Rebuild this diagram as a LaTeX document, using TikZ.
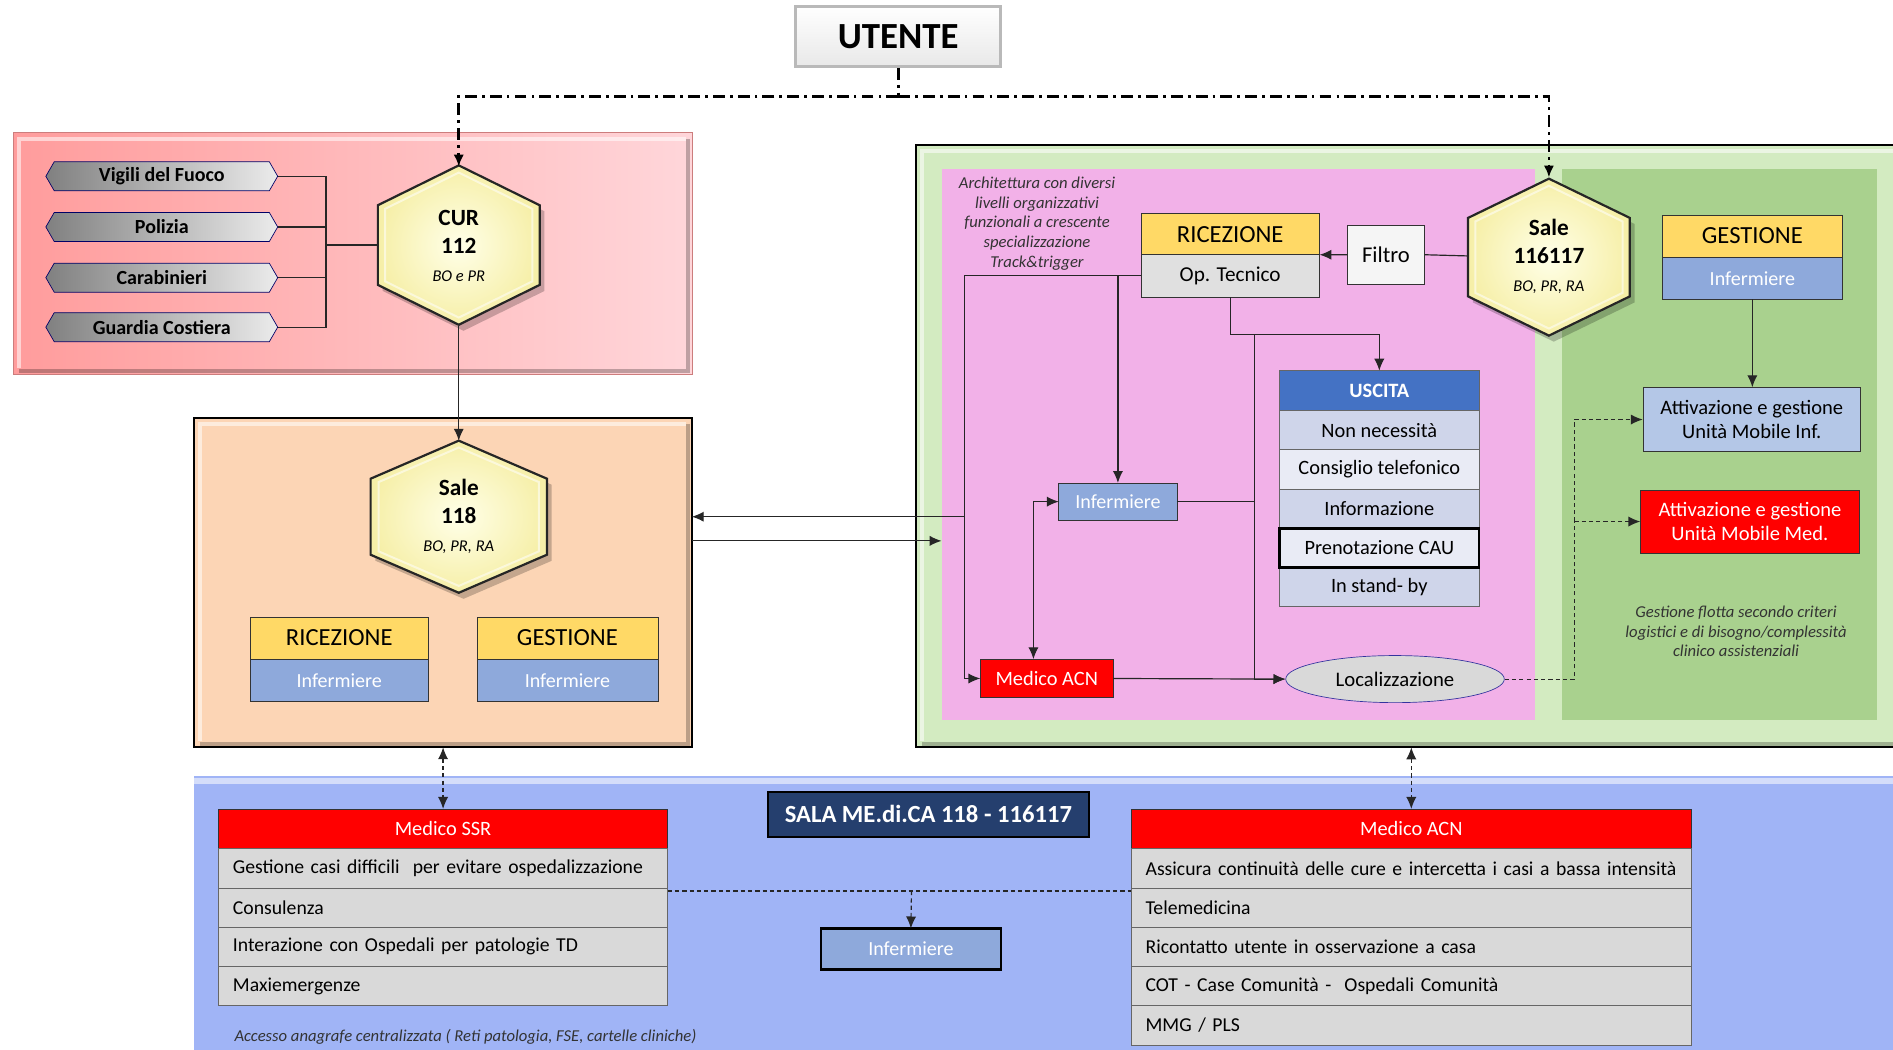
\documentclass[tikz,border=0pt]{standalone}
\usepackage{fontspec}
\setmainfont{Carlito}
\usetikzlibrary{calc,positioning,shapes.geometric,shapes.symbols,arrows.meta}

\definecolor{redpanelA}{HTML}{FF9C9C}
\definecolor{redpanelB}{HTML}{FFD6DA}
\definecolor{peach}{HTML}{FCD5B5}
\definecolor{greenlight}{HTML}{D3EBC1}
\definecolor{greendark}{HTML}{A9D18E}
\definecolor{pinkarea}{HTML}{F2B1E8}
\definecolor{bluearea}{HTML}{A0B4F6}
\definecolor{headyellow}{HTML}{FFD966}
\definecolor{nurseblue}{HTML}{8EA9DB}
\definecolor{optgrey}{HTML}{E0E0E0}
\definecolor{rowgrey}{HTML}{D9D9D9}
\definecolor{uscblue}{HTML}{4472C4}
\definecolor{uscrowA}{HTML}{CFD5EA}
\definecolor{uscrowB}{HTML}{E9EBF5}
\definecolor{mobinf}{HTML}{B4C7E7}
\definecolor{alarmred}{HTML}{FF0000}
\definecolor{navy}{HTML}{253F6E}
\definecolor{hexin}{HTML}{FFFFE8}
\definecolor{hexout}{HTML}{F6EFA8}
\definecolor{pillA}{HTML}{808080}
\definecolor{pillB}{HTML}{EBEBEB}

\newcommand{\subloc}{\fontsize{9.7}{11}\selectfont\mdseries\itshape}
% hexagon: centre x, centre y, half width, half height
\newcommand{\hexagon}[4]{%
  \begin{scope}[shift={(#1,#2)}]
    \fill[hexshadow] (4,-#4+5) -- (#3+4,-#4/2+5) -- (#3+4,#4/2+5) -- (4,#4+5) -- (-#3+4,#4/2+5) -- (-#3+4,-#4/2+5) -- cycle;
    \draw[hexshape] (0,-#4) -- (#3,-#4/2) -- (#3,#4/2) -- (0,#4) -- (-#3,#4/2) -- (-#3,-#4/2) -- cycle;
    \draw[hexbevel,scale=0.91] (0,-#4) -- (#3,-#4/2) -- (#3,#4/2) -- (0,#4) -- (-#3,#4/2) -- (-#3,-#4/2) -- cycle;
  \end{scope}}

\begin{document}
\begin{tikzpicture}[
    x=0.025cm, y=-0.025cm,
    panel/.style={inner sep=0pt, outer sep=0pt},
    bevellight/.style={white, opacity=0.55, line width=2.5pt},
    beveldark/.style={black, opacity=0.25, line width=2.5pt},
    pill/.style={signal, signal to=west and east, signal pointer angle=120,
        draw=black!60!blue, left color=pillA, right color=pillB,
        font=\bfseries\fontsize{11.8}{13}\selectfont,
        minimum width=4.8cm, minimum height=0.6cm, inner sep=0pt},
    hexshape/.style={draw=black!85, line width=1.3pt, inner color=hexin, outer color=hexout},
    hexbevel/.style={draw=white!70!hexout, line width=1.2pt, opacity=0.8},
    hexshadow/.style={black, opacity=0.22},
    hexlbl/.style={inner sep=0pt, outer sep=0pt, align=center,
        font=\fontsize{13.7}{16.5}\selectfont\bfseries},
    head/.style={draw=black!80, fill=headyellow, font=\fontsize{14.5}{16}\selectfont,
        minimum height=0.875cm, inner sep=0pt, outer sep=0pt},
    nurse/.style={draw=black!80, fill=nurseblue, text=white, font=\fontsize{11.8}{13}\selectfont,
        minimum height=0.875cm, inner sep=0pt, outer sep=0pt},
    subbox/.style={draw=black!80, font=\fontsize{12.5}{14}\selectfont,
        minimum height=0.875cm, inner sep=0pt, outer sep=0pt},
    mobbox/.style={draw=black!80, align=center, font=\fontsize{12.1}{14.5}\selectfont, inner sep=0pt},
    alarm/.style={draw=black!80, fill=alarmred, text=white, font=\fontsize{12}{13}\selectfont,
        inner sep=0pt, outer sep=0pt},
    uscrow/.style={draw=black!60, minimum width=4.125cm, minimum height=0.8125cm,
        font=\fontsize{12}{13}\selectfont, inner sep=0pt, outer sep=0pt},
    tabrow/.style={draw=black!60, fill=rowgrey, minimum height=0.8125cm, inner xsep=0.3cm,
        inner ysep=0pt, outer sep=0pt, align=left, font=\fontsize{11.6}{13}\selectfont},
    note/.style={align=center, inner sep=0pt, text=black!80,
        font=\itshape\fontsize{9.8}{11.6}\selectfont},
    conn/.style={line width=0.7pt, draw=black!85},
    dashline/.style={conn, dash pattern=on 2.5pt off 1.8pt},
    utenteline/.style={line width=1.6pt, dash pattern=on 7pt off 3pt on 1.6pt off 3pt},
    arrowto/.style={-{Latex[length=7pt,width=6pt]}},
    twoway/.style={{Latex[length=7pt,width=6pt]}-{Latex[length=7pt,width=6pt]}}
  ]
  \useasboundingbox (0,0) rectangle (1568,869);

  % panels
  \node (redp)   [panel, left color=redpanelA, right color=redpanelB, draw=redpanelA!80!black,
                  minimum width=14.05cm, minimum height=5cm] at (292,210) {};
  \node (peachp) [panel, fill=peach, draw=black, line width=1.2pt,
                  minimum width=10.3cm, minimum height=6.825cm] at (367,482.5) {};
  \node (greenp) [panel, fill=greenlight, draw=black, line width=1.2pt,
                  minimum width=20.4cm, minimum height=12.475cm] at (1167,369.5) {};
  \node (bluep)  [panel, fill=bluearea, minimum width=35.35cm, minimum height=5.925cm] at (868,761.5) {};
  \foreach \b in {redp,peachp,greenp} {
    \draw[bevellight] ([shift={(5,-5)}]\b.south west) |- ([shift={(-5,5)}]\b.north east);
    \draw[beveldark] ([shift={(5,-3)}]\b.south west) -| ([shift={(-3,5)}]\b.north east);
  }
  \draw[bevellight, line width=4pt] ([shift={(0,4)}]bluep.north west) -- ([shift={(0,4)}]bluep.north east);
  \node (pinkp)  [panel, fill=pinkarea, minimum width=12.275cm, minimum height=11.4cm] at (1025.5,368) {};
  \node (gdarkp) [panel, fill=greendark, minimum width=6.525cm, minimum height=11.4cm] at (1424.5,368) {};

  % hexagons
  \hexagon{380}{203}{67}{66}
  \hexagon{380}{428}{73}{63}
  \hexagon{1283}{213}{67}{65}
  \node (cur)  [hexlbl, minimum width=3.35cm, minimum height=3.3cm]  at (380,204)  {CUR\\112\\{\subloc BO e PR}};
  \node (s118) [hexlbl, minimum width=3.65cm, minimum height=3.15cm] at (380,428)  {Sale\\118\\{\subloc BO, PR, RA}};
  \node (s116) [hexlbl, minimum width=3.35cm, minimum height=3.25cm] at (1283,212) {Sale\\116117\\{\subloc BO, PR, RA}};

  % utente
  \node (utente) [draw=gray!55, line width=1.8pt, top color=white, bottom color=gray!18,
                  minimum width=4.25cm, minimum height=1.25cm,
                  font=\bfseries\fontsize{21.7}{23}\selectfont] at (744,30) {UTENTE};
  \coordinate (usplit) at (744,80);
  \draw[utenteline] (utente.south) -- (usplit);
  \draw[utenteline, arrowto] (usplit) -| (cur.north);
  \draw[utenteline, arrowto] (usplit) -| (s116.north);

  % 112 side
  \foreach \name/\txt/\y in {vigili/Vigili del Fuoco/146, polizia/Polizia/188,
                             carab/Carabinieri/230, guardia/Guardia Costiera/271}
    \node (\name) [pill] at (134,\y) {\txt};
  \coordinate (bus) at (270,203);
  \foreach \name in {vigili,polizia,carab,guardia}
    \draw[conn] (\name.east) -| (bus);
  \draw[conn] (bus) -- (bus -| cur.west);
  \draw[conn, arrowto] (cur.south) -- (s118.north);

  % 118 room
  \node (ric1)  [head, minimum width=3.7cm] at (281,528.5) {RICEZIONE};
  \node (ric1i) [nurse, minimum width=3.7cm, below=0pt of ric1] {Infermiere};
  \node (ges1)  [head, minimum width=3.75cm] at (470,528.5) {GESTIONE};
  \node (ges1i) [nurse, minimum width=3.75cm, below=0pt of ges1] {Infermiere};

  % 116117 room
  \node (arch) [note] at (859,185) {Architettura con diversi\\livelli organizzativi\\funzionali a crescente\\specializzazione\\Track\&trigger};
  \node (ric2)   [head, minimum width=3.7cm, minimum height=0.85cm] at (1019,194) {RICEZIONE};
  \node (optec)  [subbox, fill=optgrey, minimum width=3.7cm, below=0pt of ric2] {Op. Tecnico};
  \node (filtro) [subbox, fill=gray!8, minimum width=1.6cm, minimum height=1.225cm,
                  font=\fontsize{13.3}{15}\selectfont] at (1148,211) {Filtro};
  \node (ges2)   [head, minimum width=3.725cm] at (1451.5,195.5) {GESTIONE};
  \node (ges2i)  [nurse, minimum width=3.725cm, below=0pt of ges2] {Infermiere};
  \node (mobinf) [mobbox, fill=mobinf, minimum width=4.5cm, minimum height=1.325cm] at (1451,347.5)
                 {Attivazione e gestione\\Unità Mobile Inf.};
  \node (mobmed) [mobbox, fill=alarmred, text=white, minimum width=4.525cm, minimum height=1.3cm] at (1449.5,432)
                 {Attivazione e gestione\\Unità Mobile Med.};
  \node (flotta) [note] at (1438,523) {Gestione flotta secondo criteri\\logistici e di bisogno/complessità\\clinico assistenziali};

  \node (usc0) [uscrow, fill=uscblue, text=white, font=\bfseries\fontsize{12}{13}\selectfont,
                minimum height=0.825cm] at (1142.5,323.5) {USCITA};
  \foreach \txt/\col [count=\i] in {Non necessità/uscrowA, Consiglio telefonico/uscrowB,
                                    Informazione/uscrowA, Prenotazione CAU/uscrowB, In stand- by/uscrowA}
    \node (usc\i) [uscrow, fill=\col] at (1142.5,{323.75+32.5*\i}) {\txt};
  \draw[line width=1.6pt] (usc4.north west) rectangle (usc4.south east);

  \node (infg)   [nurse, minimum width=2.45cm, minimum height=0.775cm] at (926,415.5) {Infermiere};
  \node (medacn) [alarm, minimum width=2.75cm, minimum height=0.8cm] at (867,562) {Medico ACN};
  \node (loc)    [ellipse, draw=black!30!blue!60!gray, fill=rowgrey, minimum width=4.525cm, minimum height=0.975cm,
                  font=\fontsize{12.2}{13}\selectfont] at (1155.5,562.5) {Localizzazione};

  \draw[conn] (s116.west) -- (filtro.east);
  \draw[conn, arrowto] (filtro.west) -- (ric2.south east);
  \coordinate (trunk) at (799,428);
  \draw[conn, arrowto] (optec.west) -- (optec.west -| trunk) |- (medacn.west);
  \draw[conn, arrowto] (trunk) -- (trunk -| peachp.east);
  \coordinate (pg) at (573,448);
  \draw[conn, arrowto] (pg) -- (pg -| pinkp.west);
  \draw[conn, arrowto] (infg.north |- optec.west) -- (infg.north);
  \coordinate (vb) at (1039,277);
  \draw[conn, arrowto] (optec.south) |- (vb) -| (usc0.north);
  \draw[conn, arrowto] (vb) |- (loc.west);
  \draw[conn] (infg.east) -- (infg.east -| vb);
  \draw[conn, arrowto] (medacn.east) -- (loc.west);
  \coordinate (dv) at (856,418);
  \draw[conn, twoway] (infg.west) -- (infg.west -| dv) -- (dv |- medacn.north);
  \draw[conn, arrowto] (ges2i.south) -- (ges2i.south |- mobinf.north);
  \coordinate (dbus) at (1304,432);
  \draw[dashline] (loc.east) -| (dbus);
  \draw[dashline, arrowto] (dbus) -- (dbus -| mobmed.west);
  \draw[dashline, arrowto] (dbus) |- (mobinf.west);

  % ME.di.CA room
  \node (sala) [draw=black, line width=1.2pt, fill=navy, text=white, minimum width=6.65cm, minimum height=0.925cm,
                font=\bfseries\fontsize{14.5}{16}\selectfont] at (769,674.5) {SALA ME.di.CA 118 - 116117};
  \node (ssr0) [alarm, minimum width=9.3cm, minimum height=0.825cm] at (367,686.5) {Medico SSR};
  \foreach \txt [count=\i] in {Gestione casi difficili\ \ per evitare ospedalizzazione, Consulenza,
                               Interazione con Ospedali per patologie TD, Maxiemergenze}
    \node (ssr\i) [tabrow, text width=8.7cm] at (367,{686.75+32.5*\i}) {\txt};
  \node (acn0) [alarm, minimum width=11.6cm, minimum height=0.825cm] at (1169,686.5) {Medico ACN};
  \foreach \txt [count=\i] in {Assicura continuità delle cure e intercetta i casi a bassa intensità, Telemedicina,
                               Ricontatto utente in osservazione a casa, COT - Case Comunità -\ \ Ospedali Comunità, MMG / PLS}
    \node (acn\i) [tabrow, text width=11cm] at (1169,{686.75+32.5*\i}) {\txt};
  \node (infb) [nurse, draw=black, line width=1.3pt, minimum width=3.725cm, minimum height=0.85cm] at (754.5,786) {Infermiere};
  \node (accesso) [note, anchor=west] at (194,859) {Accesso anagrafe centralizzata ( Reti patologia, FSE, cartelle cliniche)};

  \draw[dashline, twoway] (peachp.south -| ssr0.north) -- (ssr0.north);
  \draw[dashline, twoway] (greenp.south -| acn0.north) -- (acn0.north);
  \coordinate (midlink) at (755,738);
  \draw[dashline] (midlink -| ssr1.east) -- (midlink -| acn1.west);
  \draw[dashline, arrowto] (midlink) -- (infb.north);
\end{tikzpicture}
\end{document}
